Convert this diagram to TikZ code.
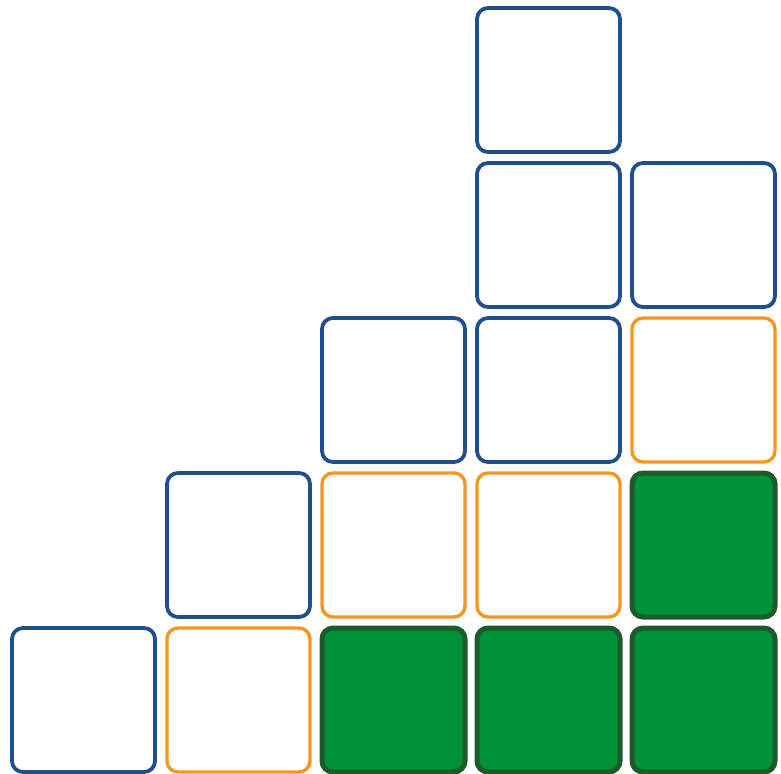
\documentclass[tikz,border=0pt]{standalone}
\usetikzlibrary{positioning}
\definecolor{boxblue}{HTML}{1F4F8F}
\definecolor{boxorange}{HTML}{F7961F}
\definecolor{boxgreen}{HTML}{009239}
\definecolor{boxgreenline}{HTML}{1E5A2A}
\begin{document}
\begin{tikzpicture}[x=1pt,y=-1pt,
  cell/.style={rectangle,inner sep=0pt,outer sep=0pt,minimum width=143pt,minimum height=144pt,rounded corners=11pt},
  bluecell/.style={cell,draw=boxblue,line width=3.8pt},
  orangecell/.style={cell,draw=boxorange,line width=3.4pt},
  greencell/.style={cell,draw=boxgreenline,fill=boxgreen,line width=5pt}]
\useasboundingbox (0,0) rectangle (781,773);
% row 0
\node[bluecell] (r0c3) at (548.5,80) {};
% row 1
\node[bluecell] (r1c3) at (548.5,235) {};
\node[bluecell] (r1c4) at (703.5,235) {};
% row 2
\node[bluecell] (r2c2) at (393.5,390) {};
\node[bluecell] (r2c3) at (548.5,390) {};
\node[orangecell] (r2c4) at (703.5,390) {};
% row 3
\node[bluecell] (r3c1) at (238.5,545) {};
\node[orangecell] (r3c2) at (393.5,545) {};
\node[orangecell] (r3c3) at (548.5,545) {};
\node[greencell] (r3c4) at (703.5,545) {};
% row 4
\node[bluecell] (r4c0) at (83.5,700) {};
\node[orangecell] (r4c1) at (238.5,700) {};
\node[greencell] (r4c2) at (393.5,700) {};
\node[greencell] (r4c3) at (548.5,700) {};
\node[greencell] (r4c4) at (703.5,700) {};
\end{tikzpicture}
\end{document}
